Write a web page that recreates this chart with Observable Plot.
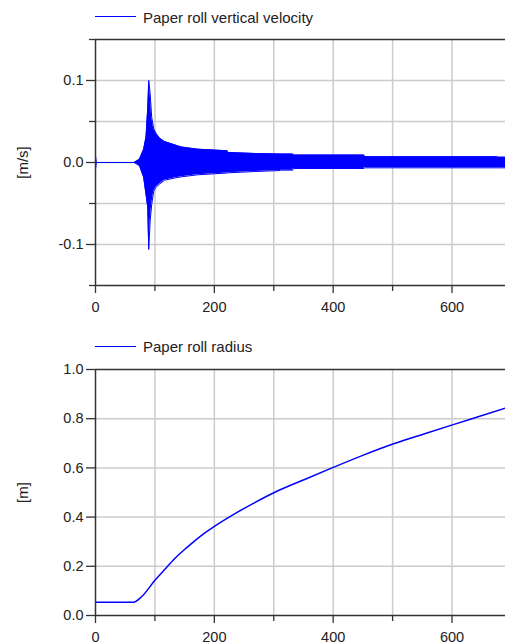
<!DOCTYPE html>
<html><head><meta charset="utf-8">
<script src="https://cdn.jsdelivr.net/npm/d3@7"></script>
<script src="https://cdn.jsdelivr.net/npm/@observablehq/plot@0.6"></script>
<style>
body{margin:0;background:#fff;font-family:"Liberation Sans",Arial,sans-serif;}
#wrap{position:relative;width:505px;height:644px;overflow:hidden;background:#fff;}
.legend{position:absolute;left:0;width:505px;height:30px;}
.legend .sw{position:absolute;left:95px;width:41px;height:0;border-top:1.5px solid #0000ff;}
.legend .lb{position:absolute;left:143px;font-size:15px;color:#222;white-space:nowrap;line-height:normal;}
.chart{position:absolute;left:0;}
.chart svg{display:block;}
</style></head><body>
<div id="wrap">
  <div class="legend" style="top:0"><div class="sw" style="top:16px"></div><div class="lb" style="top:8.5px">Paper roll vertical velocity</div></div>
  <div class="chart" id="c1" style="top:30px"></div>
  <div class="legend" style="top:330px"><div class="sw" style="top:16px"></div><div class="lb" style="top:8px">Paper roll radius</div></div>
  <div class="chart" id="c2" style="top:360px"></div>
</div>
<script>
// ---- shared x axis ----
const xDomain = [0, 690];
const xTicksMajor = [0, 200, 400, 600];
const xTicksMinor = [100, 300, 500];
const xGridValues = [100, 200, 300, 400, 500, 600];

// ---- top chart: vertical velocity envelope [m/s] ----
const velX  = [0, 1.5, 65, 74, 81, 85, 88, 89.6, 92, 94.6, 98, 102, 107.5, 116, 133, 144, 172, 222, 223, 268, 311, 312, 332, 333, 452, 453, 676, 677, 690];
const velHi = [0.008, 0, 0, 0.004, 0.016, 0.031, 0.067, 0.1, 0.084, 0.055, 0.041, 0.0355, 0.030, 0.0257, 0.0216, 0.019, 0.0163, 0.0143, 0.0122, 0.011, 0.0103, 0.0103, 0.0103, 0.009, 0.009, 0.007, 0.007, 0.0065, 0.0065];
const velLo = [-0.008, 0, 0, -0.004, -0.018, -0.039, -0.055, -0.106, -0.071, -0.051, -0.035, -0.030, -0.0265, -0.0216, -0.019, -0.0175, -0.015, -0.0128, -0.0126, -0.011, -0.0098, -0.0093, -0.0093, -0.0073, -0.0073, -0.0065, -0.0065, -0.0065, -0.0065];
const velDomain = [-0.15, 0.15];
const velTicksMajor = [-0.1, 0, 0.1];
const velTicksMinor = [-0.15, -0.05, 0.05, 0.15];
const velGrid = [-0.1, -0.05, 0, 0.05, 0.1];
const velLabel = "[m/s]";

// ---- bottom chart: paper roll radius [m] ----
const radX = [0, 64, 77, 100, 116, 133, 155, 178, 200, 234, 268, 301, 352, 402, 453, 503, 554, 602, 644, 690];
const radY = [0.054, 0.054, 0.075, 0.143, 0.186, 0.231, 0.279, 0.325, 0.362, 0.413, 0.459, 0.500, 0.553, 0.604, 0.654, 0.699, 0.739, 0.776, 0.808, 0.843];
const radDomain = [0, 1];
const radTicks = [0, 0.2, 0.4, 0.6, 0.8, 1.0];
const radGrid = [0.2, 0.4, 0.6, 0.8];
const radLabel = "[m]";

const BLUE = "#0000ff", GRID = "#cccccc", AXIS = "#333333";
const FONT = "'Liberation Sans', Arial, sans-serif";

function frame(opts) {
  const {yDomain, yMajor, yMinor, yGrid, label, height, marginTop, marginBottom, dataMarks} = opts;
  return Plot.plot({
    width: 505, height, marginLeft: 95, marginRight: 0, marginTop, marginBottom,
    x: {domain: xDomain},
    y: {domain: yDomain},
    style: {background: "transparent", color: "#222", fontFamily: FONT, fontSize: "14.5px", overflow: "visible"},
    marks: [
      Plot.gridX(xGridValues, {stroke: GRID, strokeOpacity: 1, strokeWidth: 1.5}),
      Plot.gridY(yGrid, {stroke: GRID, strokeOpacity: 1, strokeWidth: 1.5}),
      ...dataMarks,
      Plot.ruleY([yDomain[1]], {stroke: AXIS, strokeWidth: 1.5}),
      Plot.ruleY([yDomain[0]], {stroke: AXIS, strokeWidth: 1.5}),
      Plot.ruleX([xDomain[0]], {stroke: AXIS, strokeWidth: 1.5}),
      ...(yMinor.length ? [Plot.axisY(yMinor, {tickSize: 6, tickFormat: () => "", label: null, stroke: AXIS, strokeWidth: 1.3})] : []),
      Plot.axisY(yMajor, {tickSize: 9, tickPadding: 3, tickFormat: d => d.toFixed(1), label: null, stroke: AXIS, strokeWidth: 1.3, fill: "#222"}),
      Plot.axisX(xTicksMinor, {tickSize: 6, tickFormat: () => "", label: null, stroke: AXIS, strokeWidth: 1.3}),
      Plot.axisX(xTicksMajor, {tickSize: 8, tickPadding: 8.5, tickFormat: d => String(d), label: null, stroke: AXIS, strokeWidth: 1.3, fill: "#222"}),
      Plot.text([label], {text: d => d, frameAnchor: "left", rotate: -90, dx: -72.5, textAnchor: "middle", lineAnchor: "middle", fontSize: 15, fill: "#222"})
    ]
  });
}

const vel = velX.map((x, i) => ({x, hi: velHi[i], lo: velLo[i]}));
const rad = radX.map((x, i) => ({x, r: radY[i]}));

document.getElementById("c1").appendChild(frame({
  yDomain: velDomain, yMajor: velTicksMajor, yMinor: velTicksMinor, yGrid: velGrid, label: velLabel,
  height: 300, marginTop: 9, marginBottom: 45,
  dataMarks: [
    Plot.areaY(vel, {x: "x", y1: "lo", y2: "hi", fill: BLUE, clip: true}),
    Plot.lineY(vel, {x: "x", y: "hi", stroke: BLUE, strokeWidth: 1, clip: true}),
    Plot.lineY(vel, {x: "x", y: "lo", stroke: BLUE, strokeWidth: 1, clip: true})
  ]
}));

document.getElementById("c2").appendChild(frame({
  yDomain: radDomain, yMajor: radTicks, yMinor: [], yGrid: radGrid, label: radLabel,
  height: 284, marginTop: 9, marginBottom: 29,
  dataMarks: [
    Plot.lineY(rad, {x: "x", y: "r", stroke: BLUE, strokeWidth: 1.5, curve: "monotone-x", clip: true})
  ]
}));
</script>
</body></html>
